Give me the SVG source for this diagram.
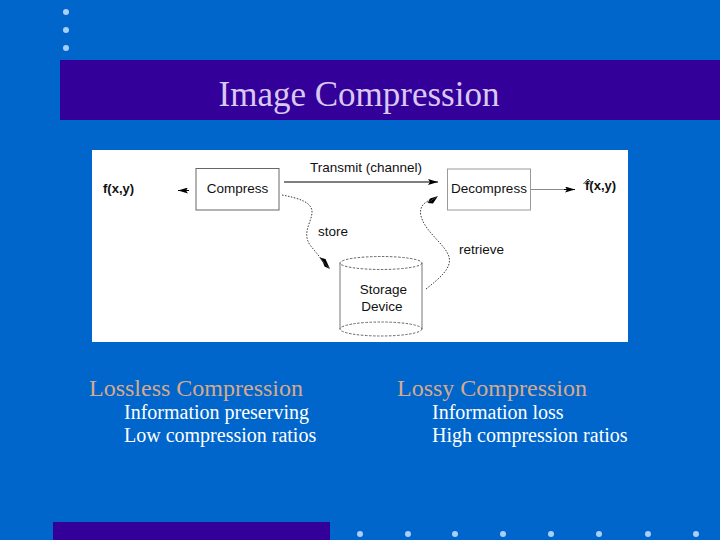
<svg xmlns="http://www.w3.org/2000/svg" width="720" height="540" viewBox="0 0 720 540">
  <style>
    .dot { fill: #A8D0F4; }
    .bar { fill: #330099; }
    .title { font-family: "Liberation Serif", "Times New Roman", serif; font-size: 35px; fill: #D8C8F2; }
    .head { font-family: "Liberation Serif", "Times New Roman", serif; font-size: 24px; fill: #D6AA8C; }
    .item { font-family: "Liberation Serif", "Times New Roman", serif; font-size: 20px; fill: #FFFFFF; }
    .lbl { font-family: "Liberation Sans", Arial, sans-serif; font-size: 13.5px; fill: #111111; }
    .blbl { font-family: "Liberation Sans", Arial, sans-serif; font-size: 13px; font-weight: bold; fill: #111111; }
    .box { fill: #FFFFFF; stroke: #666666; stroke-width: 1; }
    .box2 { fill: #FFFFFF; stroke: #9A9A9A; stroke-width: 1; }
    .solid { fill: none; stroke: #000000; stroke-width: 1; }
    .thin { fill: none; stroke: #8A8A8A; stroke-width: 1; }
    .dash { fill: none; stroke: #222222; stroke-width: 0.9; stroke-dasharray: 1.5 1.5; }
    .cyl { fill: none; stroke: #777777; stroke-width: 1; }
    .cyld { fill: none; stroke: #555555; stroke-width: 0.9; stroke-dasharray: 2.5 1.5; }
  </style>
  <defs>
    <marker id="ah" viewBox="0 0 10 6" refX="10" refY="3" markerWidth="11" markerHeight="6" markerUnits="userSpaceOnUse" orient="auto">
      <path d="M0,0 L10,3 L0,6 L2,3 z" fill="#000000"/>
    </marker>
  </defs>

  <rect x="0" y="0" width="720" height="540" fill="#0066CC"/>

  <g id="decor">
    <circle class="dot" cx="66" cy="12" r="3"/>
    <circle class="dot" cx="66" cy="30" r="3"/>
    <circle class="dot" cx="66" cy="48" r="3"/>
    <rect class="bar" x="60" y="60" width="660" height="60"/>
    <rect class="bar" x="53" y="522" width="277" height="18"/>
    <circle class="dot" cx="360" cy="534" r="3"/>
    <circle class="dot" cx="408" cy="534" r="3"/>
    <circle class="dot" cx="455" cy="534" r="3"/>
    <circle class="dot" cx="503" cy="534" r="3"/>
    <circle class="dot" cx="551" cy="534" r="3"/>
    <circle class="dot" cx="599" cy="534" r="3"/>
    <circle class="dot" cx="648" cy="534" r="3"/>
    <circle class="dot" cx="696" cy="534" r="3"/>
  </g>

  <g id="title">
    <text class="title" x="359" y="106" text-anchor="middle">Image Compression</text>
  </g>

  <rect id="panel" x="92" y="150" width="536" height="192" fill="#FFFFFF"/>

  <g id="connectors">
    <path class="solid" d="M189,190.5 L178,190.5" marker-end="url(#ah)"/>
    <path class="solid" d="M284,182 L438,182" marker-end="url(#ah)"/>
    <path class="thin" d="M530,189.5 L566,189.5"/>
    <path class="solid" d="M564,189.5 L575,189.5" marker-end="url(#ah)"/>
    <path class="dash" d="M282,195 C298,198 313,202 312,213 C311,223 302,233 310,245 L323,261"/>
    <path d="M319.5,257.5 L330,269 L324.5,266.5 L323,262.5 Z" fill="#000000"/>
    <path d="M319.5,257.5 L330,269 L325.5,259 Z" fill="#000000"/>
    <path class="dash" d="M426,289 C440,278 452,268 449,257 C446,245 425,232 421,216 C419,208 423,203 430,200"/>
    <path d="M427.5,203 L438,196 L433,203.5 Z" fill="#000000"/>
    <path d="M427.5,203 L438,196 L430,198.5 Z" fill="#000000"/>
    <text class="lbl" x="310" y="172">Transmit (channel)</text>
    <text class="lbl" x="318" y="236">store</text>
    <text class="lbl" x="459" y="254">retrieve</text>
  </g>

  <g id="source">
    <text class="blbl" x="103" y="193">f(x,y)</text>
  </g>

  <g id="compress">
    <rect class="box" x="196" y="168.5" width="83" height="41.5"/>
    <text class="lbl" x="237.5" y="193" text-anchor="middle">Compress</text>
  </g>

  <g id="decompress">
    <rect class="box2" x="447.5" y="169" width="83" height="41"/>
    <text class="lbl" x="489" y="193" text-anchor="middle">Decompress</text>
  </g>

  <g id="output">
    <path d="M583.5,184 L588,179 L592.5,184" fill="none" stroke="#222222" stroke-width="0.9"/>
    <text class="blbl" x="585" y="190">f(x,y)</text>
  </g>

  <g id="storage">
    <path class="cyl" d="M340,263 L340,329 M422,263 L422,329"/>
    <ellipse class="cyld" cx="381" cy="263" rx="41" ry="6.5"/>
    <ellipse class="cyld" cx="381" cy="329" rx="41" ry="7"/>
    <text class="lbl" x="383.5" y="294" text-anchor="middle">Storage</text>
    <text class="lbl" x="382" y="311" text-anchor="middle">Device</text>
  </g>

  <g id="lossless">
    <text class="head" x="89" y="396">Lossless Compression</text>
    <text class="item" x="124" y="419">Information preserving</text>
    <text class="item" x="124" y="442">Low compression ratios</text>
  </g>

  <g id="lossy">
    <text class="head" x="397" y="396">Lossy Compression</text>
    <text class="item" x="432" y="419">Information loss</text>
    <text class="item" x="432" y="442">High compression ratios</text>
  </g>
</svg>
